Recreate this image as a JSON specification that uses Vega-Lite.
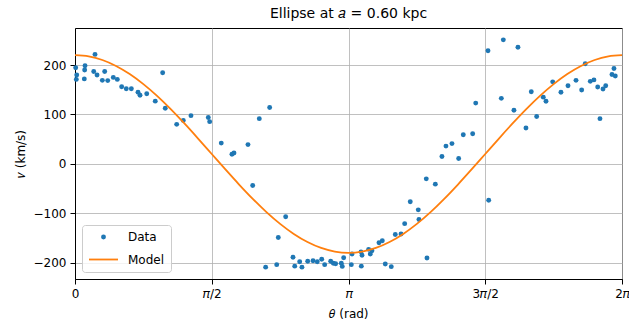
{
  "$schema": "https://vega.github.io/schema/vega-lite/v6.json",
  "width": 547,
  "height": 251,
  "autosize": "none",
  "padding": {"left": 75, "top": 28, "right": 7, "bottom": 47},
  "background": "white",
  "title": {"text": "Ellipse at 𝑎 = 0.60 kpc", "font": "DejaVu Sans", "fontSize": 14, "fontWeight": "normal", "color": "black", "offset": 7},
  "config": {
    "view": {"stroke": "black", "strokeWidth": 1},
    "axis": {
      "labelFont": "DejaVu Sans", "labelFontSize": 12, "labelColor": "black",
      "titleFont": "DejaVu Sans", "titleFontSize": 12, "titleFontWeight": "normal", "titleColor": "black",
      "domainColor": "black", "tickColor": "black", "tickSize": 5, "labelPadding": 4,
      "grid": true, "gridColor": "#b0b0b0", "gridWidth": 0.8
    },
    "legend": {
      "orient": "bottom-left", "offset": 7,
      "fillColor": "rgba(255,255,255,0.8)", "strokeColor": "#cccccc", "cornerRadius": 3, "padding": 6,
      "labelFont": "DejaVu Sans", "labelFontSize": 12, "labelColor": "black",
      "rowPadding": -9, "labelOffset": 9, "symbolStrokeWidth": 1.8, "symbolOpacity": 1
    }
  },
  "layer": [
    {
      "data": {"name": "pts"},
      "mark": {"type": "point", "opacity": 1, "strokeWidth": 1.8},
      "encoding": {
        "x": {"field": "theta", "type": "quantitative",
              "scale": {"domain": [0, 6.2832], "nice": false, "zero": false},
              "axis": {"values": [0, 1.5708, 3.1416, 4.7124, 6.2832], "title": "𝜃 (rad)", "titlePadding": 9, "labelFlush": false,
                       "labelExpr": "datum.value < 0.1 ? '0' : datum.value < 2 ? '𝜋/2' : datum.value < 4 ? '𝜋' : datum.value < 5 ? '3𝜋/2' : '2𝜋'"}},
        "y": {"field": "v", "type": "quantitative",
              "scale": {"domain": [-233, 275], "nice": false, "zero": false},
              "axis": {"values": [-200, -100, 0, 100, 200], "title": "𝑣 (km/s)", "titlePadding": 6, "labelExpr": "replace(datum.label, '-', '−')"}},
        "fill": {"datum": "Data", "type": "nominal",
                 "scale": {"domain": ["Data", "Model"], "range": ["#1f77b4", "transparent"]},
                 "legend": {"title": null}},
        "stroke": {"datum": "Data", "type": "nominal",
                   "scale": {"domain": ["Data", "Model"], "range": ["transparent", "#ff7f0e"]},
                   "legend": {"title": null}},
        "shape": {"datum": "Data", "type": "nominal",
                  "scale": {"domain": ["Data", "Model"], "range": ["circle", "stroke"]},
                  "legend": {"title": null}},
        "size": {"datum": "Data", "type": "ordinal",
                 "scale": {"type": "ordinal", "domain": ["Data", "Model"], "range": [24, 841]},
                 "legend": {"title": null}}
      }
    },
    {
      "data": {"name": "model"},
      "mark": {"type": "line", "strokeWidth": 1.8, "interpolate": "monotone", "color": "#ff7f0e"},
      "encoding": {
        "x": {"field": "theta", "type": "quantitative"},
        "y": {"field": "v", "type": "quantitative"}
      }
    }
  ],
  "datasets": {
    "pts": [
      {"theta": 0.008, "v": 194.5}, {"theta": 0.020, "v": 180}, {"theta": 0.015, "v": 171},
      {"theta": 0.107, "v": 172}, {"theta": 0.115, "v": 198.6}, {"theta": 0.111, "v": 190},
      {"theta": 0.230, "v": 221.6}, {"theta": 0.215, "v": 187}, {"theta": 0.253, "v": 180},
      {"theta": 0.314, "v": 169}, {"theta": 0.341, "v": 187}, {"theta": 0.376, "v": 168.5},
      {"theta": 0.440, "v": 175}, {"theta": 0.486, "v": 171}, {"theta": 0.536, "v": 156},
      {"theta": 0.589, "v": 152}, {"theta": 0.647, "v": 152}, {"theta": 0.724, "v": 145},
      {"theta": 0.747, "v": 139}, {"theta": 0.824, "v": 142}, {"theta": 0.922, "v": 127},
      {"theta": 1.007, "v": 184.5}, {"theta": 1.037, "v": 112.5}, {"theta": 1.168, "v": 80},
      {"theta": 1.244, "v": 88}, {"theta": 1.332, "v": 97.6}, {"theta": 1.531, "v": 94},
      {"theta": 1.547, "v": 85.5}, {"theta": 1.680, "v": 42}, {"theta": 1.803, "v": 19.6},
      {"theta": 1.826, "v": 22}, {"theta": 1.987, "v": 39}, {"theta": 2.041, "v": -43.8},
      {"theta": 2.117, "v": 91.5}, {"theta": 2.190, "v": -209}, {"theta": 2.236, "v": 114},
      {"theta": 2.317, "v": -204}, {"theta": 2.335, "v": -149}, {"theta": 2.420, "v": -107},
      {"theta": 2.504, "v": -189}, {"theta": 2.524, "v": -207}, {"theta": 2.581, "v": -198},
      {"theta": 2.607, "v": -209}, {"theta": 2.673, "v": -197}, {"theta": 2.734, "v": -196},
      {"theta": 2.783, "v": -198}, {"theta": 2.834, "v": -193}, {"theta": 2.868, "v": -204},
      {"theta": 2.937, "v": -197}, {"theta": 2.967, "v": -201}, {"theta": 2.994, "v": -202},
      {"theta": 3.059, "v": -201}, {"theta": 3.070, "v": -207.5}, {"theta": 3.086, "v": -190},
      {"theta": 3.174, "v": -204}, {"theta": 3.182, "v": -182.5}, {"theta": 3.285, "v": -178},
      {"theta": 3.297, "v": -185}, {"theta": 3.289, "v": -207}, {"theta": 3.373, "v": -173},
      {"theta": 3.392, "v": -182.5}, {"theta": 3.411, "v": -176}, {"theta": 3.492, "v": -159.6},
      {"theta": 3.530, "v": -155.6}, {"theta": 3.564, "v": -202.7}, {"theta": 3.633, "v": -208},
      {"theta": 3.679, "v": -142.8}, {"theta": 3.745, "v": -142}, {"theta": 3.787, "v": -121},
      {"theta": 3.851, "v": -76.8}, {"theta": 3.943, "v": -93}, {"theta": 3.951, "v": -112.5},
      {"theta": 4.035, "v": -30.3}, {"theta": 4.043, "v": -190.6}, {"theta": 4.139, "v": -41},
      {"theta": 4.215, "v": 15}, {"theta": 4.261, "v": 36}, {"theta": 4.330, "v": 41},
      {"theta": 4.407, "v": 11}, {"theta": 4.460, "v": 59}, {"theta": 4.568, "v": 61},
      {"theta": 4.603, "v": 123}, {"theta": 4.744, "v": 229}, {"theta": 4.752, "v": -73.5},
      {"theta": 4.897, "v": 132.6}, {"theta": 4.920, "v": 251}, {"theta": 5.042, "v": 108.4},
      {"theta": 5.088, "v": 236}, {"theta": 5.180, "v": 72.7}, {"theta": 5.241, "v": 146},
      {"theta": 5.303, "v": 96}, {"theta": 5.379, "v": 135}, {"theta": 5.410, "v": 126.6},
      {"theta": 5.487, "v": 166}, {"theta": 5.582, "v": 145}, {"theta": 5.663, "v": 158},
      {"theta": 5.755, "v": 169}, {"theta": 5.820, "v": 149.5}, {"theta": 5.861, "v": 202.6},
      {"theta": 5.919, "v": 167}, {"theta": 5.961, "v": 170}, {"theta": 6.004, "v": 155.6},
      {"theta": 6.030, "v": 91.5}, {"theta": 6.065, "v": 151.5}, {"theta": 6.096, "v": 158},
      {"theta": 6.168, "v": 181}, {"theta": 6.191, "v": 193}, {"theta": 6.206, "v": 178}
    ],
    "model": [
      {"theta": 0, "v": 220}, {"theta": 0.1571, "v": 217.5}, {"theta": 0.3142, "v": 210.2},
      {"theta": 0.4712, "v": 198.2}, {"theta": 0.6283, "v": 181.8}, {"theta": 0.7854, "v": 161.4},
      {"theta": 0.9425, "v": 137.6}, {"theta": 1.0996, "v": 110.8}, {"theta": 1.2566, "v": 81.8},
      {"theta": 1.4137, "v": 51.3}, {"theta": 1.5708, "v": 20}, {"theta": 1.7279, "v": -11.3},
      {"theta": 1.885, "v": -41.8}, {"theta": 2.042, "v": -70.8}, {"theta": 2.1991, "v": -97.6},
      {"theta": 2.3562, "v": -121.4}, {"theta": 2.5133, "v": -141.8}, {"theta": 2.6704, "v": -158.2},
      {"theta": 2.8274, "v": -170.2}, {"theta": 2.9845, "v": -177.5}, {"theta": 3.1416, "v": -180},
      {"theta": 3.2987, "v": -177.5}, {"theta": 3.4558, "v": -170.2}, {"theta": 3.6128, "v": -158.2},
      {"theta": 3.7699, "v": -141.8}, {"theta": 3.927, "v": -121.4}, {"theta": 4.0841, "v": -97.6},
      {"theta": 4.2412, "v": -70.8}, {"theta": 4.3982, "v": -41.8}, {"theta": 4.5553, "v": -11.3},
      {"theta": 4.7124, "v": 20}, {"theta": 4.8695, "v": 51.3}, {"theta": 5.0265, "v": 81.8},
      {"theta": 5.1836, "v": 110.8}, {"theta": 5.3407, "v": 137.6}, {"theta": 5.4978, "v": 161.4},
      {"theta": 5.6549, "v": 181.8}, {"theta": 5.8119, "v": 198.2}, {"theta": 5.969, "v": 210.2},
      {"theta": 6.1261, "v": 217.5}, {"theta": 6.2832, "v": 220}
    ]
  }
}
